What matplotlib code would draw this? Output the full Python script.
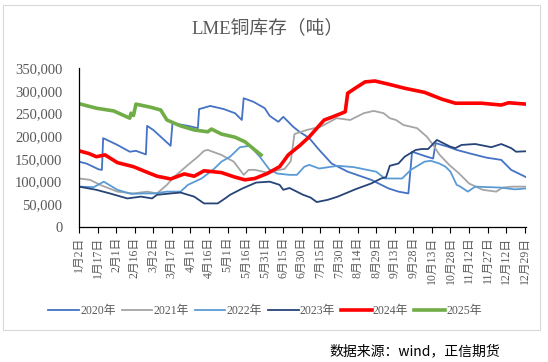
import numpy as np
import matplotlib
matplotlib.use("Agg")
import matplotlib.pyplot as plt
from matplotlib.patches import Rectangle
from matplotlib.ticker import FuncFormatter

# day index 0 = 1月2日, one unit = one calendar day
tickLabels = ["1月2日", "1月17日", "2月1日", "2月16日", "3月2日", "3月17日", "4月1日",
              "4月16日", "5月1日", "5月16日", "5月31日", "6月15日", "6月30日", "7月15日",
              "7月30日", "8月14日", "8月29日", "9月13日", "9月28日", "10月13日", "10月28日",
              "11月12日", "11月27日", "12月12日", "12月29日"]

# inventory, thousand tonnes
days2020 = [0, 6, 16, 18.5, 19.5, 31, 41, 46, 54, 55, 60, 66, 74, 75.5, 88, 96, 97, 106, 117,
            126, 131.5, 133, 141, 150, 154, 161, 165, 173, 178, 186, 193, 204, 217, 236, 250,
            258, 266, 269, 281, 286, 288, 298, 305, 316, 329, 341, 349, 361]
vals2020 = [144, 140, 127, 126, 196, 181, 166, 168, 160, 223, 214, 199, 179, 229, 223, 218, 260,
            267, 260, 251, 236, 284, 276, 262, 245, 232, 243, 221, 210, 196, 173, 140, 122, 104,
            85, 78, 74, 166, 155, 151, 185, 177, 170, 162, 153, 148, 126, 110]

days2021 = [0, 9, 17, 31, 44, 55, 63, 71, 77, 88, 96, 101, 104, 115, 125, 133, 137, 142, 152,
            162, 166, 171, 174, 184, 195, 208, 219, 230, 238, 246, 251, 256, 262, 273, 281, 286,
            291, 299, 307, 315, 326, 337, 342, 350, 361]
vals2021 = [107, 104, 93, 78, 74, 78, 74, 93, 111, 137, 155, 168, 170, 159, 144, 115, 126, 126,
            120, 126, 128, 145, 205, 214, 221, 240, 236, 251, 256, 251, 240, 236, 225, 218, 199,
            181, 160, 137, 118, 96, 82, 78, 87, 89, 89]

days2022 = [0, 12, 20, 31, 42, 52, 61, 71, 82, 88, 99, 109, 115, 122, 130, 138, 146, 154, 160,
            170, 176, 182, 186, 194, 209, 222, 240, 247, 261, 268, 279, 284, 291, 296, 300, 305,
            308, 314, 320, 340, 352, 361]
vals2022 = [89, 88, 100, 82, 73, 74, 74, 78, 78, 93, 107, 128, 144, 155, 176, 179, 155, 126, 118,
            115, 115, 133, 137, 129, 135, 132, 122, 107, 107, 126, 144, 146, 140, 133, 122, 93,
            89, 78, 89, 87, 83, 85]

days2023 = [0, 14, 25, 39, 50, 59, 63, 74, 82, 93, 101, 112, 118, 122, 132, 143, 154, 162, 165,
            170, 181, 187, 192, 201, 209, 223, 236, 244, 248, 251, 258, 263, 272, 277, 282, 289,
            300, 304, 309, 320, 333, 341, 349, 353, 361]
vals2023 = [89, 82, 74, 63, 67, 63, 71, 74, 76, 67, 52, 52, 63, 71, 85, 98, 100, 93, 82, 86, 71,
            65, 55, 60, 67, 83, 96, 107, 110, 135, 140, 155, 170, 172, 172, 192, 177, 174, 181,
            183, 176, 183, 174, 166, 167]

days2024 = [0, 8, 14, 21, 31, 44, 52, 63, 74, 80, 85, 93, 101, 115, 126, 134, 142, 152, 162,
            169, 178, 186, 198, 204, 215, 217, 223, 231, 239, 250, 263, 279, 293, 304, 325, 341,
            347, 361]
vals2024 = [168, 162, 155, 159, 142, 133, 124, 112, 106, 112, 117, 112, 124, 120, 110, 104, 107,
            118, 133, 159, 179, 199, 236, 242, 254, 295, 306, 320, 322, 315, 306, 297, 282, 273,
            273, 269, 274, 271]

days2025 = [0, 14, 28, 41, 42, 44, 46, 58, 66, 71, 82, 93, 104, 107, 115, 126, 134, 142, 147]
vals2025 = [272, 262, 256, 240, 251, 246, 271, 264, 258, 236, 223, 214, 210, 216, 205, 198, 188,
            170, 159]

series = [
    ("2020年", days2020, vals2020, "#4472C4", 1.3),
    ("2021年", days2021, vals2021, "#A5A5A5", 1.3),
    ("2022年", days2022, vals2022, "#5B9BD5", 1.3),
    ("2023年", days2023, vals2023, "#264478", 1.3),
    ("2024年", days2024, vals2024, "#FF0000", 2.6),
    ("2025年", days2025, vals2025, "#70AD47", 2.6),
]

fontList = ["Liberation Serif", "Noto Sans CJK SC"]
grey = "#595959"

fig = plt.figure(figsize=(5.48, 3.62), dpi=100)
fig.patches.append(Rectangle((3 / 548, 1 - 330 / 362), 537 / 548, 325 / 362,
                             transform=fig.transFigure, fill=False,
                             edgecolor="#D9D9D9", linewidth=0.8))

ax = fig.add_axes([79 / 548, 1 - 227 / 362, 447 / 548, (227 - 68.3) / 362])

for name, d, v, color, lw in series:
    ax.plot(d, np.array(v) * 1000, color=color, linewidth=lw, label=name,
            solid_joinstyle="round")

ax.set_xlim(0, 361)
ax.set_ylim(0, 350000)
ax.set_yticks(np.arange(0, 350001, 50000))
ax.yaxis.set_major_formatter(FuncFormatter(lambda y, p: f"{int(y):,}"))
ax.set_xticks(np.arange(0, 361, 15))
ax.set_xticklabels(tickLabels, rotation=90, family=fontList, fontsize=8.5, color=grey)
for lab in ax.get_yticklabels():
    lab.set_family(fontList)
    lab.set_fontsize(10.5)
    lab.set_color(grey)

ax.tick_params(axis="y", length=0, pad=12)
ax.tick_params(axis="x", length=4, direction="out", width=0.8, pad=3)
for s in ["top", "right"]:
    ax.spines[s].set_visible(False)
for s in ["left", "bottom"]:
    ax.spines[s].set_color("black")
    ax.spines[s].set_linewidth(0.9)

fig.text(268 / 548, 1 - 28 / 362, "LME铜库存（吨）", ha="center", va="center",
         family=fontList, fontsize=13.5, color=grey)

leg = fig.legend(loc="center", bbox_to_anchor=(265 / 548, 1 - 311 / 362), ncol=6,
                 frameon=False, prop={"family": fontList, "size": 8.5},
                 handlelength=2.6, handletextpad=0.1, columnspacing=0.5)
for t in leg.get_texts():
    t.set_color(grey)

fig.text(500 / 548, 1 - 351 / 362, "数据来源：wind，正信期货", ha="right", va="center",
         family=["Noto Sans CJK SC", "DejaVu Sans"], fontsize=10, color="black")

fig.savefig("out.png", dpi=100)
